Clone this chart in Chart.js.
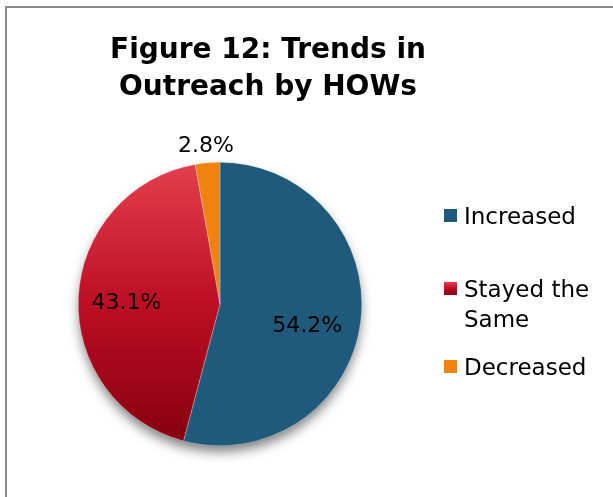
<!DOCTYPE html>
<html>
<head>
    <title>Figure 12: Trends in Outreach by HOWs</title>
    <script src="https://cdn.jsdelivr.net/npm/chart.js"></script>
    <style>
        html, body { margin: 0; padding: 0; background: #fff; }
        #wrap { width: 613px; height: 497px; position: relative; }
    </style>
</head>
<body>
<div id="wrap"><canvas id="myChart" width="613" height="497"></canvas></div>
<script>
    var categories = ['Increased', 'Stayed the Same', 'Decreased'];
    var legendLines = [['Increased'], ['Stayed the', 'Same'], ['Decreased']];
    var shares = [54.2, 43.1, 2.8];
    var percentLabels = ['54.2%', '43.1%', '2.8%'];
    var titleLines = ['Figure 12: Trends in', 'Outreach by HOWs'];

    var blue = '#1f5a7c';
    var orange = '#f0820f';

    function redGradient(c, top, bottom) {
        var g = c.createLinearGradient(0, top, 0, bottom);
        g.addColorStop(0, '#e3404f');
        g.addColorStop(0.5, '#bd0e24');
        g.addColorStop(1, '#85000f');
        return g;
    }

    function sliceFill(context) {
        if (context.dataIndex === 0) return blue;
        if (context.dataIndex === 2) return orange;
        var chart = context.chart;
        var area = chart.chartArea;
        if (!area) return '#b80c22';
        return redGradient(chart.ctx, area.top, area.bottom);
    }

    // frame, title, shadow, labels, legend
    var decor = {
        id: 'decor',
        beforeDraw: function(chart) {
            var ctx = chart.ctx;
            ctx.save();
            ctx.strokeStyle = '#8a8a8a';
            ctx.lineWidth = 2;
            ctx.beginPath();
            ctx.moveTo(6, 520);
            ctx.lineTo(6, 7);
            ctx.lineTo(640, 7);
            ctx.stroke();

            ctx.fillStyle = '#000';
            ctx.font = 'bold 28px "DejaVu Sans"';
            ctx.textAlign = 'center';
            ctx.textBaseline = 'alphabetic';
            ctx.fillText(titleLines[0], 268, 58);
            ctx.fillText(titleLines[1], 268, 95);
            ctx.restore();
        },
        beforeDatasetsDraw: function(chart) {
            var arc = chart.getDatasetMeta(0).data[0];
            var ctx = chart.ctx;
            ctx.save();
            ctx.shadowColor = 'rgba(0,0,0,0.5)';
            ctx.shadowBlur = 12;
            ctx.shadowOffsetY = 7;
            ctx.fillStyle = '#fff';
            ctx.beginPath();
            ctx.arc(arc.x, arc.y, arc.outerRadius - 1, 0, Math.PI * 2);
            ctx.fill();
            ctx.restore();
        },
        afterDatasetsDraw: function(chart) {
            var ctx = chart.ctx;
            var meta = chart.getDatasetMeta(0);
            var radiusFactor = [0.62, 0.66, 1.12];
            ctx.save();
            ctx.font = '22px "DejaVu Sans"';
            ctx.fillStyle = '#000';
            ctx.textAlign = 'center';
            ctx.textBaseline = 'middle';
            meta.data.forEach(function(arc, i) {
                var mid = (arc.startAngle + arc.endAngle) / 2;
                var r = arc.outerRadius * radiusFactor[i];
                var x = arc.x + Math.cos(mid) * r;
                var y = arc.y + Math.sin(mid) * r;
                if (i === 0) y += 11;
                if (i === 1) y += 3;
                ctx.fillText(percentLabels[i], x, y);
            });

            // legend
            var baselines = [[224], [297, 327], [375]];
            ctx.font = '23px "DejaVu Sans"';
            ctx.textAlign = 'left';
            ctx.textBaseline = 'alphabetic';
            legendLines.forEach(function(lines, i) {
                var b = baselines[i][0];
                ctx.fillStyle = i === 1 ? redGradient(ctx, b - 15, b - 2) : (i === 0 ? blue : orange);
                ctx.fillRect(444, b - 15, 13, 13);
                ctx.fillStyle = '#000';
                lines.forEach(function(t, j) {
                    ctx.fillText(t, 464, baselines[i][j]);
                });
            });
            ctx.restore();
        }
    };

    var ctx = document.getElementById('myChart').getContext('2d');
    var myChart = new Chart(ctx, {
        type: 'pie',
        data: {
            labels: categories,
            datasets: [{
                data: shares,
                backgroundColor: sliceFill,
                borderColor: 'rgba(255,255,255,0.5)',
                borderWidth: 0.5
            }]
        },
        options: {
            responsive: false,
            animation: false,
            layout: {
                padding: { left: 78, right: 251, top: 162, bottom: 51 }
            },
            plugins: {
                legend: { display: false },
                tooltip: { enabled: false },
                title: { display: false }
            }
        },
        plugins: [decor]
    });
</script>
</body>
</html>
